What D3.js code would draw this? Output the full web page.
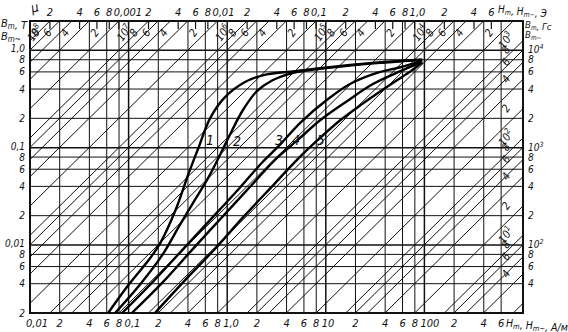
<!DOCTYPE html>
<html lang="ru">
<head>
<meta charset="UTF-8">
<title>Кривые намагничивания</title>
<script src="https://d3js.org/d3.v7.min.js"></script>
<style>
  body { margin: 0; background: #fff; }
  svg { display: block; }
  text { font-family: "Liberation Sans Narrow", "DejaVu Sans Condensed", "Liberation Sans", sans-serif;
         font-style: italic; fill: #111; }
</style>
</head>
<body>
<svg width="568" height="332"></svg>
<script>
// --- data ---
const MU0 = 4 * Math.PI * 1e-7;

// bottom axis, H in A/m
const hTicks = [0.01,0.02,0.04,0.06,0.08,0.1,0.2,0.4,0.6,0.8,1,2,4,6,8,10,20,40,60,80,100,200,400,600];
const hLabels = ["0,01","2","4","6","8","0,1","2","4","6","8","1,0","2","4","6","8","10","2","4","6","8","100","2","4","6"];

// top axis, H in Oe
const oeTicks = [2e-4,4e-4,6e-4,8e-4,1e-3,2e-3,4e-3,6e-3,8e-3,0.01,0.02,0.04,0.06,0.08,0.1,0.2,0.4,0.6,0.8,1,2,4,6];
const oeLabels = ["2","4","6","8","0,001","2","4","6","8","0,01","2","4","6","8","0,1","2","4","6","8","1,0","2","4","6"];

// left axis, B in T
const bTicks = [0.002,0.004,0.006,0.008,0.01,0.02,0.04,0.06,0.08,0.1,0.2,0.4,0.6,0.8,1];
const bLabels = ["2","4","6","8","0,01","2","4","6","8","0,1","2","4","6","8","1,0"];

// right axis, B in Gs
const gsTicks = [40,60,80,100,200,400,600,800,1000,2000,4000,6000,8000,10000];
const gsLabels = ["4","6","8","10^2","2","4","6","8","10^3","2","4","6","8","10^4"];

// permeability lines
const muMant = [1,2,4,6,8];
const muExp = [0,1,2,3,4,5,6,7,8];

// magnetization curves 1..5: H (A/m), B (T)
const c1H = [0.062,0.10,0.165,0.21,0.30,0.40,0.51,0.67,0.95,1.5,2.4,4.9,14,40,95];
const c1B = [0.002,0.0039,0.0073,0.0105,0.023,0.052,0.099,0.20,0.33,0.47,0.56,0.61,0.69,0.76,0.80];
const c2H = [0.073,0.13,0.22,0.33,0.47,0.65,0.85,1.1,1.45,2.0,2.85,4.5,14,40,95];
const c2B = [0.002,0.0039,0.0079,0.016,0.029,0.050,0.085,0.145,0.245,0.38,0.49,0.58,0.68,0.75,0.80];
const c3H = [0.086,0.165,0.33,0.67,1.35,2.25,3.4,5.5,10.3,17.6,33,57,95];
const c3B = [0.002,0.0039,0.0083,0.018,0.039,0.070,0.106,0.18,0.31,0.45,0.585,0.67,0.78];
const c4H = [0.108,0.22,0.44,0.89,1.8,3.05,5.2,8.7,16.4,30,57,95];
const c4B = [0.002,0.0041,0.0089,0.0194,0.042,0.075,0.12,0.19,0.30,0.45,0.61,0.76];
const c5H = [0.185,0.37,0.75,1.5,3.05,5.1,8.3,13.9,23.3,43,71,95];
const c5B = [0.002,0.0043,0.0091,0.020,0.043,0.075,0.12,0.19,0.28,0.43,0.60,0.75];
const curveNames = ["1","2","3","4","5"];
const curveLabelH = [0.67,1.26,3.35,5.0,8.9];
const curveLabelB = [0.106,0.104,0.106,0.106,0.106];

// --- drawing ---
const svg = d3.select("svg");
const x = d3.scaleLog().domain([0.01, 1000]).range([30, 523]);
const y = d3.scaleLog().domain([0.002, 2]).range([313, 21]);
const xOe = d3.scaleLog().domain([0.01 * 4 * Math.PI / 1000, 1000 * 4 * Math.PI / 1000]).range([30, 523]);
const yGs = d3.scaleLog().domain([20, 20000]).range([313, 21]);

const isDecade = v => Math.abs(Math.log10(v) - Math.round(Math.log10(v))) < 1e-6;

// grid
svg.append("g").selectAll("line").data(hTicks.slice(1)).join("line")
  .attr("x1", d => x(d)).attr("x2", d => x(d))
  .attr("y1", y(0.002)).attr("y2", y(2))
  .attr("stroke", "#111").attr("stroke-width", d => isDecade(d) ? 1.5 : 1);
svg.append("g").selectAll("line").data(bTicks.slice(1)).join("line")
  .attr("y1", d => y(d)).attr("y2", d => y(d))
  .attr("x1", x(0.01)).attr("x2", x(1000))
  .attr("stroke", "#111").attr("stroke-width", d => isDecade(d) ? 1.5 : 1);

// Oe ticks at top edge
svg.append("g").selectAll("line").data(oeTicks).join("line")
  .attr("x1", d => xOe(d)).attr("x2", d => xOe(d))
  .attr("y1", y(2)).attr("y2", y(2) + 8)
  .attr("stroke", "#111").attr("stroke-width", 1.2);

// permeability lines  B = mu0 * mu * H
const muVals = [];
muExp.forEach(k => muMant.forEach(m => muVals.push({ m, k, mu: m * Math.pow(10, k) })));
const muLines = muVals.map(d => {
  const a = MU0 * d.mu;
  const h0 = Math.max(0.01, 0.002 / a), h1 = Math.min(1000, 2 / a);
  return Object.assign({}, d, { a, h0, h1 });
}).filter(d => d.h0 < d.h1 && d.mu <= 1e8);

svg.append("g").selectAll("line").data(muLines).join("line")
  .attr("x1", d => x(d.h0)).attr("y1", d => y(d.a * d.h0))
  .attr("x2", d => x(d.h1)).attr("y2", d => y(d.a * d.h1))
  .attr("stroke", "#111").attr("stroke-width", 1);

// mu labels along top and right edge
const muLab = svg.append("g").selectAll("text").data(muLines.filter(d => d.mu >= 4)).join("text")
  .attr("font-size", 11)
  .attr("text-anchor", "middle")
  .attr("transform", d => {
    let px, py;
    if (d.h1 < 1000) {
      const hl = y.invert(31) / d.a;
      px = Math.max(38, x(hl) - 11); py = 35;
    } else {
      px = 509; py = y(d.a * x.invert(509)) - 12;
    }
    return `translate(${px},${py}) rotate(-55)`;
  });
muLab.append("tspan").text(d => d.m === 1 ? "10" : d.m);
muLab.filter(d => d.m === 1).append("tspan").attr("font-size", 8).attr("dy", -4).text(d => d.k);

// frame
svg.append("rect").attr("x", 30).attr("y", 21).attr("width", 493).attr("height", 292)
  .attr("fill", "none").attr("stroke", "#111").attr("stroke-width", 2);

// curves
const curves = [[c1H,c1B],[c2H,c2B],[c3H,c3B],[c4H,c4B],[c5H,c5B]]
  .map(([hs, bs]) => hs.map((h, i) => [h, bs[i]]));
const line = d3.line().x(d => x(d[0])).y(d => y(d[1])).curve(d3.curveCatmullRom.alpha(0.5));
svg.append("g").selectAll("path").data(curves).join("path")
  .attr("d", line).attr("fill", "none").attr("stroke", "#000").attr("stroke-width", 2.4);

svg.append("g").selectAll("text").data(curveNames).join("text")
  .attr("x", (d, i) => x(curveLabelH[i])).attr("y", (d, i) => y(curveLabelB[i]))
  .attr("text-anchor", "middle").attr("font-size", 14).text(d => d);

// bottom labels (decade labels start just left of their tick)
svg.append("g").selectAll("text").data(hTicks).join("text")
  .attr("x", d => isDecade(d) ? x(d) - 4 : x(d)).attr("y", 327)
  .attr("text-anchor", d => isDecade(d) ? "start" : "middle")
  .attr("font-size", 11).text((d, i) => hLabels[i]);

// top labels
svg.append("g").selectAll("text").data(oeTicks).join("text")
  .attr("x", d => isDecade(d) ? xOe(d) - 5 : xOe(d)).attr("y", 16)
  .attr("text-anchor", d => isDecade(d) ? "start" : "middle")
  .attr("font-size", 11).text((d, i) => oeLabels[i]);

// left labels
svg.append("g").selectAll("text").data(bTicks).join("text")
  .attr("x", 25).attr("y", d => y(d) + (isDecade(d) ? 2 : 3.5)).attr("text-anchor", "end")
  .attr("font-size", 10).text((d, i) => bLabels[i]);

// right labels
const rl = svg.append("g").selectAll("text").data(gsTicks).join("text")
  .attr("x", 528).attr("y", d => yGs(d) + (isDecade(d) ? 3 : 3.5)).attr("font-size", 10);
rl.append("tspan").text((d, i) => gsLabels[i].split("^")[0]);
rl.filter((d, i) => gsLabels[i].includes("^")).append("tspan")
  .attr("dy", -4).attr("font-size", 7).text(d => Math.round(Math.log10(d)));

// axis titles
function title(tx, ty, parts, size) {
  const t = svg.append("text").attr("x", tx).attr("y", ty).attr("font-size", size);
  parts.forEach(p => {
    t.append("tspan").text(p[0]);
    if (p[1]) {
      t.append("tspan").attr("font-size", size - 3).attr("dy", 2).text(p[1]);
      t.append("tspan").attr("dy", -2).text("");
    }
  });
  return t;
}
title(1, 27, [["B", "m"], [", T"]], 11);
title(1, 40, [["B", "m~"]], 11);
title(525, 28, [["B", "m"], [", Гс"]], 9.5);
title(525, 38, [["B", "m~"]], 9.5);
title(498, 13, [["H", "m"], [", H", "m~"], [", Э"]], 10);
title(506, 327, [["H", "m"], [", H", "m~"], [", A/м"]], 10.5);
svg.append("text").attr("x", 31).attr("y", 12).attr("font-size", 13)
  .attr("transform", "rotate(-15,34,8)").text("μ");
</script>
</body>
</html>
